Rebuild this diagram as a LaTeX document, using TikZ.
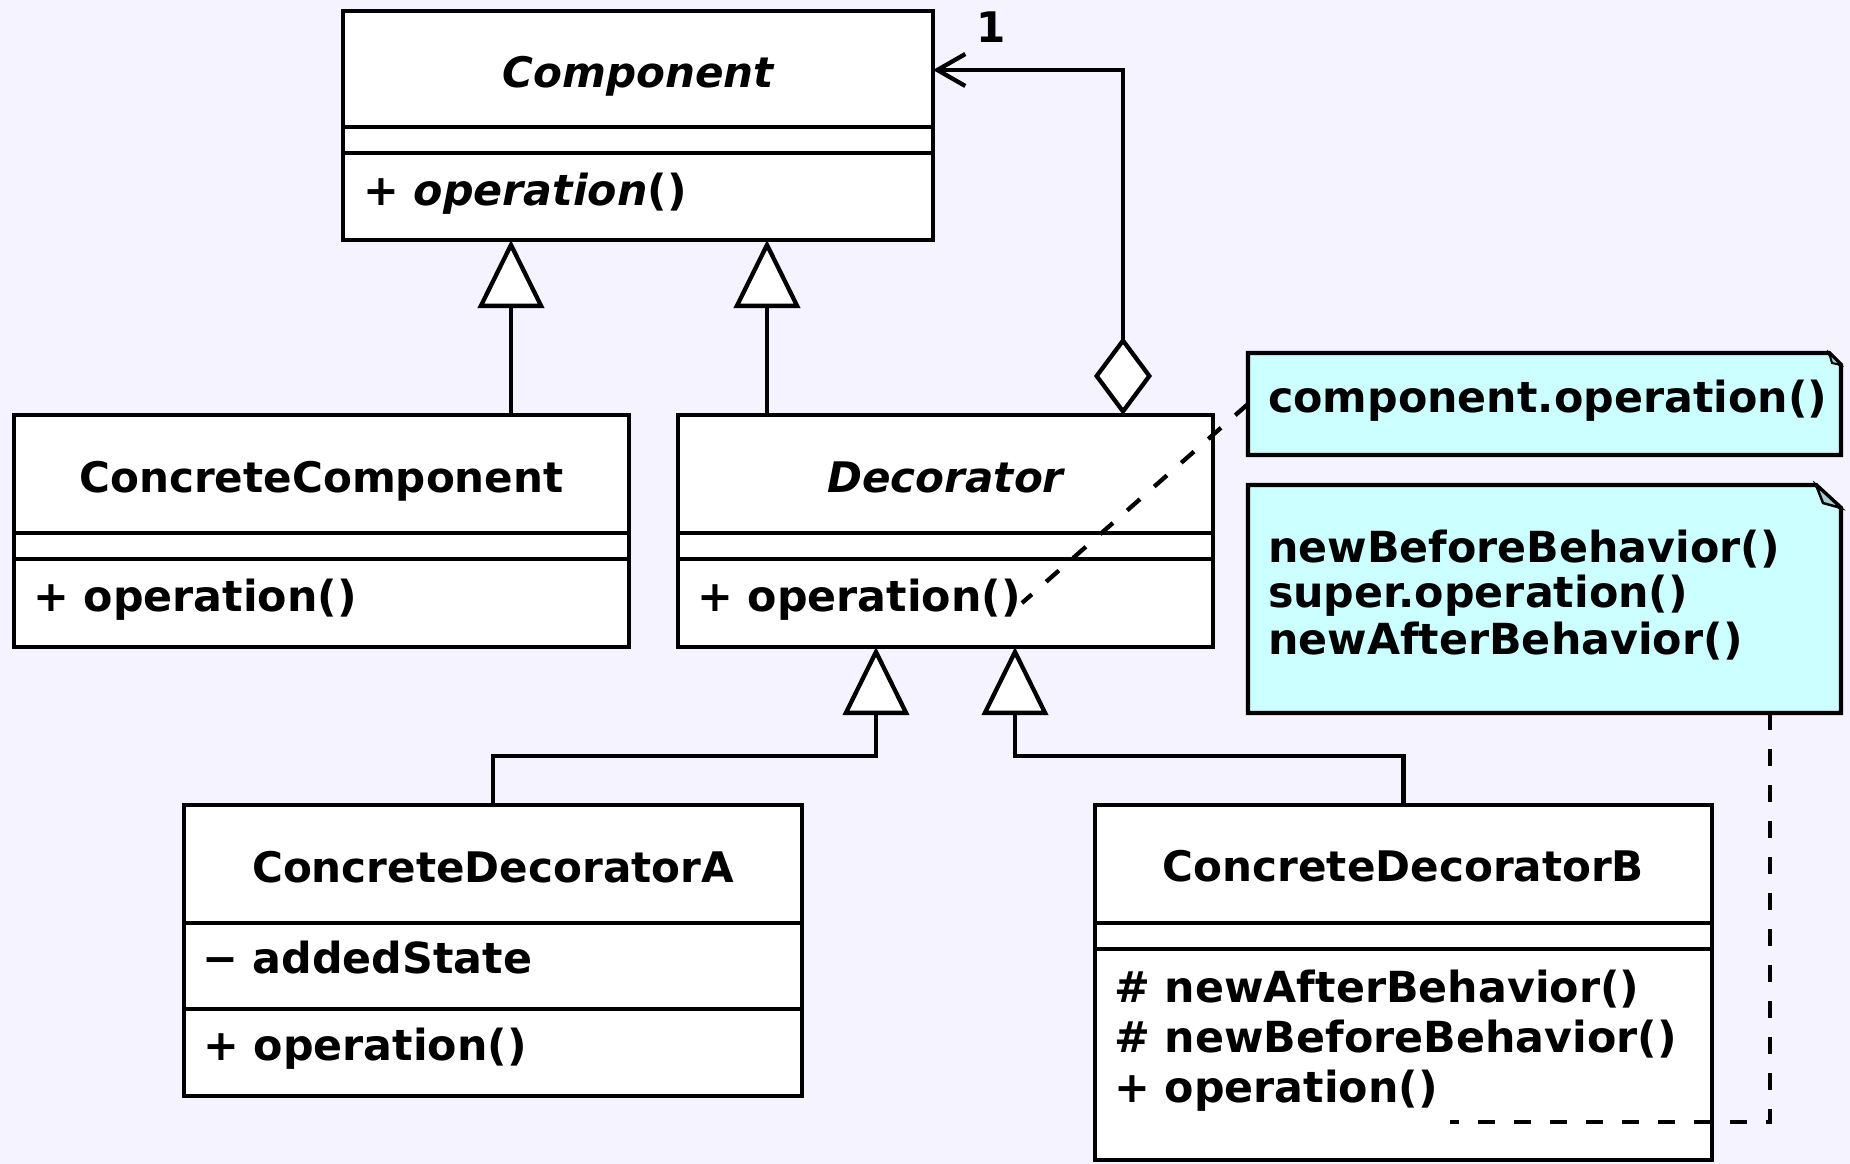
\documentclass[tikz,border=0pt]{standalone}
\usepackage{fontspec}
\setmainfont{DejaVu Sans}
\usetikzlibrary{arrows.meta,calc}

\definecolor{bgcol}{RGB}{245,243,255}
\definecolor{notecol}{RGB}{204,255,255}
\definecolor{foldcol}{RGB}{168,206,210}

\begin{document}
\begin{tikzpicture}[x=1pt,y=-1pt,line width=4.3pt,
  box/.style={draw,fill=white,rectangle,inner sep=0pt,outer sep=0pt,anchor=north west},
  area/.style={rectangle,inner sep=0pt,outer sep=0pt,anchor=north west},
  txt/.style={inner sep=0pt,outer sep=0pt,font=\fontsize{42.8}{50}\selectfont\bfseries},
  title/.style={inner sep=0pt,outer sep=0pt,font=\fontsize{42.1}{50}\selectfont\bfseries,anchor=base},
  member/.style={txt,anchor=base west},
  notebody/.style={draw,fill=notecol,line join=miter},
  fold/.style={draw,fill=foldcol,line join=miter},
  gen/.style={-{Triangle[length=68pt,width=66pt,fill=white]}},
  agg/.style={{Diamond[length=78pt,width=58pt,fill=white]}-{Straight Barb[length=28pt,width=32pt]}},
  dashline/.style={dash pattern=on 17pt off 19pt}]

% canvas
\fill[bgcol] (0,0) rectangle (1850,1164);
\useasboundingbox (0,0) rectangle (1850,1164);

% ---------- Component ----------
\node[box,minimum width=590pt,minimum height=229pt] (comp) at (343,11) {};
\draw (comp.west |- 0,127) -- (comp.east |- 0,127);
\draw (comp.west |- 0,153) -- (comp.east |- 0,153);
\node[title] (compT) at (638,88) {\itshape Component};
\node[member] (compOp) at (363,205) {+ \textit{operation}()};

% ---------- ConcreteComponent ----------
\node[box,minimum width=615pt,minimum height=232pt] (cc) at (14,415) {};
\draw (cc.west |- 0,533) -- (cc.east |- 0,533);
\draw (cc.west |- 0,559) -- (cc.east |- 0,559);
\node[title] (ccT) at (321.5,492) {ConcreteComponent};
\node[member] (ccOp) at (33,611) {+ operation()};

% ---------- Decorator ----------
\node[box,minimum width=535pt,minimum height=232pt] (dec) at (678,415) {};
\draw (dec.west |- 0,533) -- (dec.east |- 0,533);
\draw (dec.west |- 0,559) -- (dec.east |- 0,559);
\node[title] (decT) at (945.5,492) {\itshape Decorator};
\node[member] (decOp) at (697,611) {+ operation()};

% ---------- ConcreteDecoratorA ----------
\node[box,minimum width=618pt,minimum height=291pt] (cda) at (184,805) {};
\draw (cda.west |- 0,923) -- (cda.east |- 0,923);
\draw (cda.west |- 0,1009) -- (cda.east |- 0,1009);
\node[title] (cdaT) at (493,882) {ConcreteDecoratorA};
\node[member] (cdaAttr) at (202,973) {− addedState};
\node[member] (cdaOp) at (203,1060) {+ operation()};

% ---------- ConcreteDecoratorB ----------
\node[box,minimum width=617pt,minimum height=355pt] (cdb) at (1095,805) {};
\draw (cdb.west |- 0,923) -- (cdb.east |- 0,923);
\draw (cdb.west |- 0,949) -- (cdb.east |- 0,949);
\node[title] (cdbT) at (1403.5,881) {ConcreteDecoratorB};
\node[member] (cdbM1) at (1114,1002) {\# newAfterBehavior()};
\node[member] (cdbM2) at (1114,1052) {\# newBeforeBehavior()};
\node[member] (cdbOp) at (1114,1102) {+ operation()};

% ---------- notes ----------
\node[area,minimum width=593pt,minimum height=102pt] (note1) at (1248,353) {};
\draw[notebody] (note1.north west) -- ($(note1.north east)+(-12,0)$)
  -- ($(note1.north east)+(0,12)$) -- (note1.south east) -- (note1.south west) -- cycle;
\draw[fold,line width=2pt] ($(note1.north east)+(-12,0)$) -- ($(note1.north east)+(-9,10)$)
  -- ($(note1.north east)+(0,12)$) -- cycle;
\node[member] (note1T) at (1268,412) {component.operation()};

\node[area,minimum width=593pt,minimum height=228pt] (note2) at (1248,485) {};
\draw[notebody] (note2.north west) -- ($(note2.north east)+(-25,0)$)
  -- ($(note2.north east)+(0,23)$) -- (note2.south east) -- (note2.south west) -- cycle;
\draw[fold,line width=2.5pt] ($(note2.north east)+(-25,0)$) -- ($(note2.north east)+(-18,18)$)
  -- ($(note2.north east)+(0,23)$) -- cycle;
\node[member] (note2L1) at (1268,562) {newBeforeBehavior()};
\node[member] (note2L2) at (1268,607) {super.operation()};
\node[member] (note2L3) at (1268,654) {newAfterBehavior()};

% ---------- routing points ----------
\coordinate (gA) at (511,0);
\coordinate (gB) at (767,0);
\coordinate (gC) at (876,0);
\coordinate (gD) at (1015,0);
\coordinate (busY) at (0,756);
\coordinate (aggX) at (1123,0);
\coordinate (aggY) at (0,70);
\coordinate (noteX) at (1770,0);
\coordinate (decOpEnd) at (1022,603);
\coordinate (cdbOpEnd) at (1450,1122);

% generalizations
\draw[gen] (cc.north -| gA) -- (comp.south -| gA);
\draw[gen] (dec.north -| gB) -- (comp.south -| gB);
\draw[gen] (cda.north) -- (cda.north |- busY) -- (busY -| gC) -- (dec.south -| gC);
\draw[gen] (cdb.north) -- (cdb.north |- busY) -- (busY -| gD) -- (dec.south -| gD);

% aggregation with multiplicity
\draw[agg] (dec.north -| aggX) -- (aggX |- aggY) -- (comp.east |- aggY);
\node[title] (mult) at (991,43) {1};

% note anchors
\draw[dashline] (note1.west) -- (decOpEnd);
\draw[dashline] (note2.south -| noteX) -- (noteX |- cdbOpEnd) -- (cdbOpEnd);
\end{tikzpicture}
\end{document}
